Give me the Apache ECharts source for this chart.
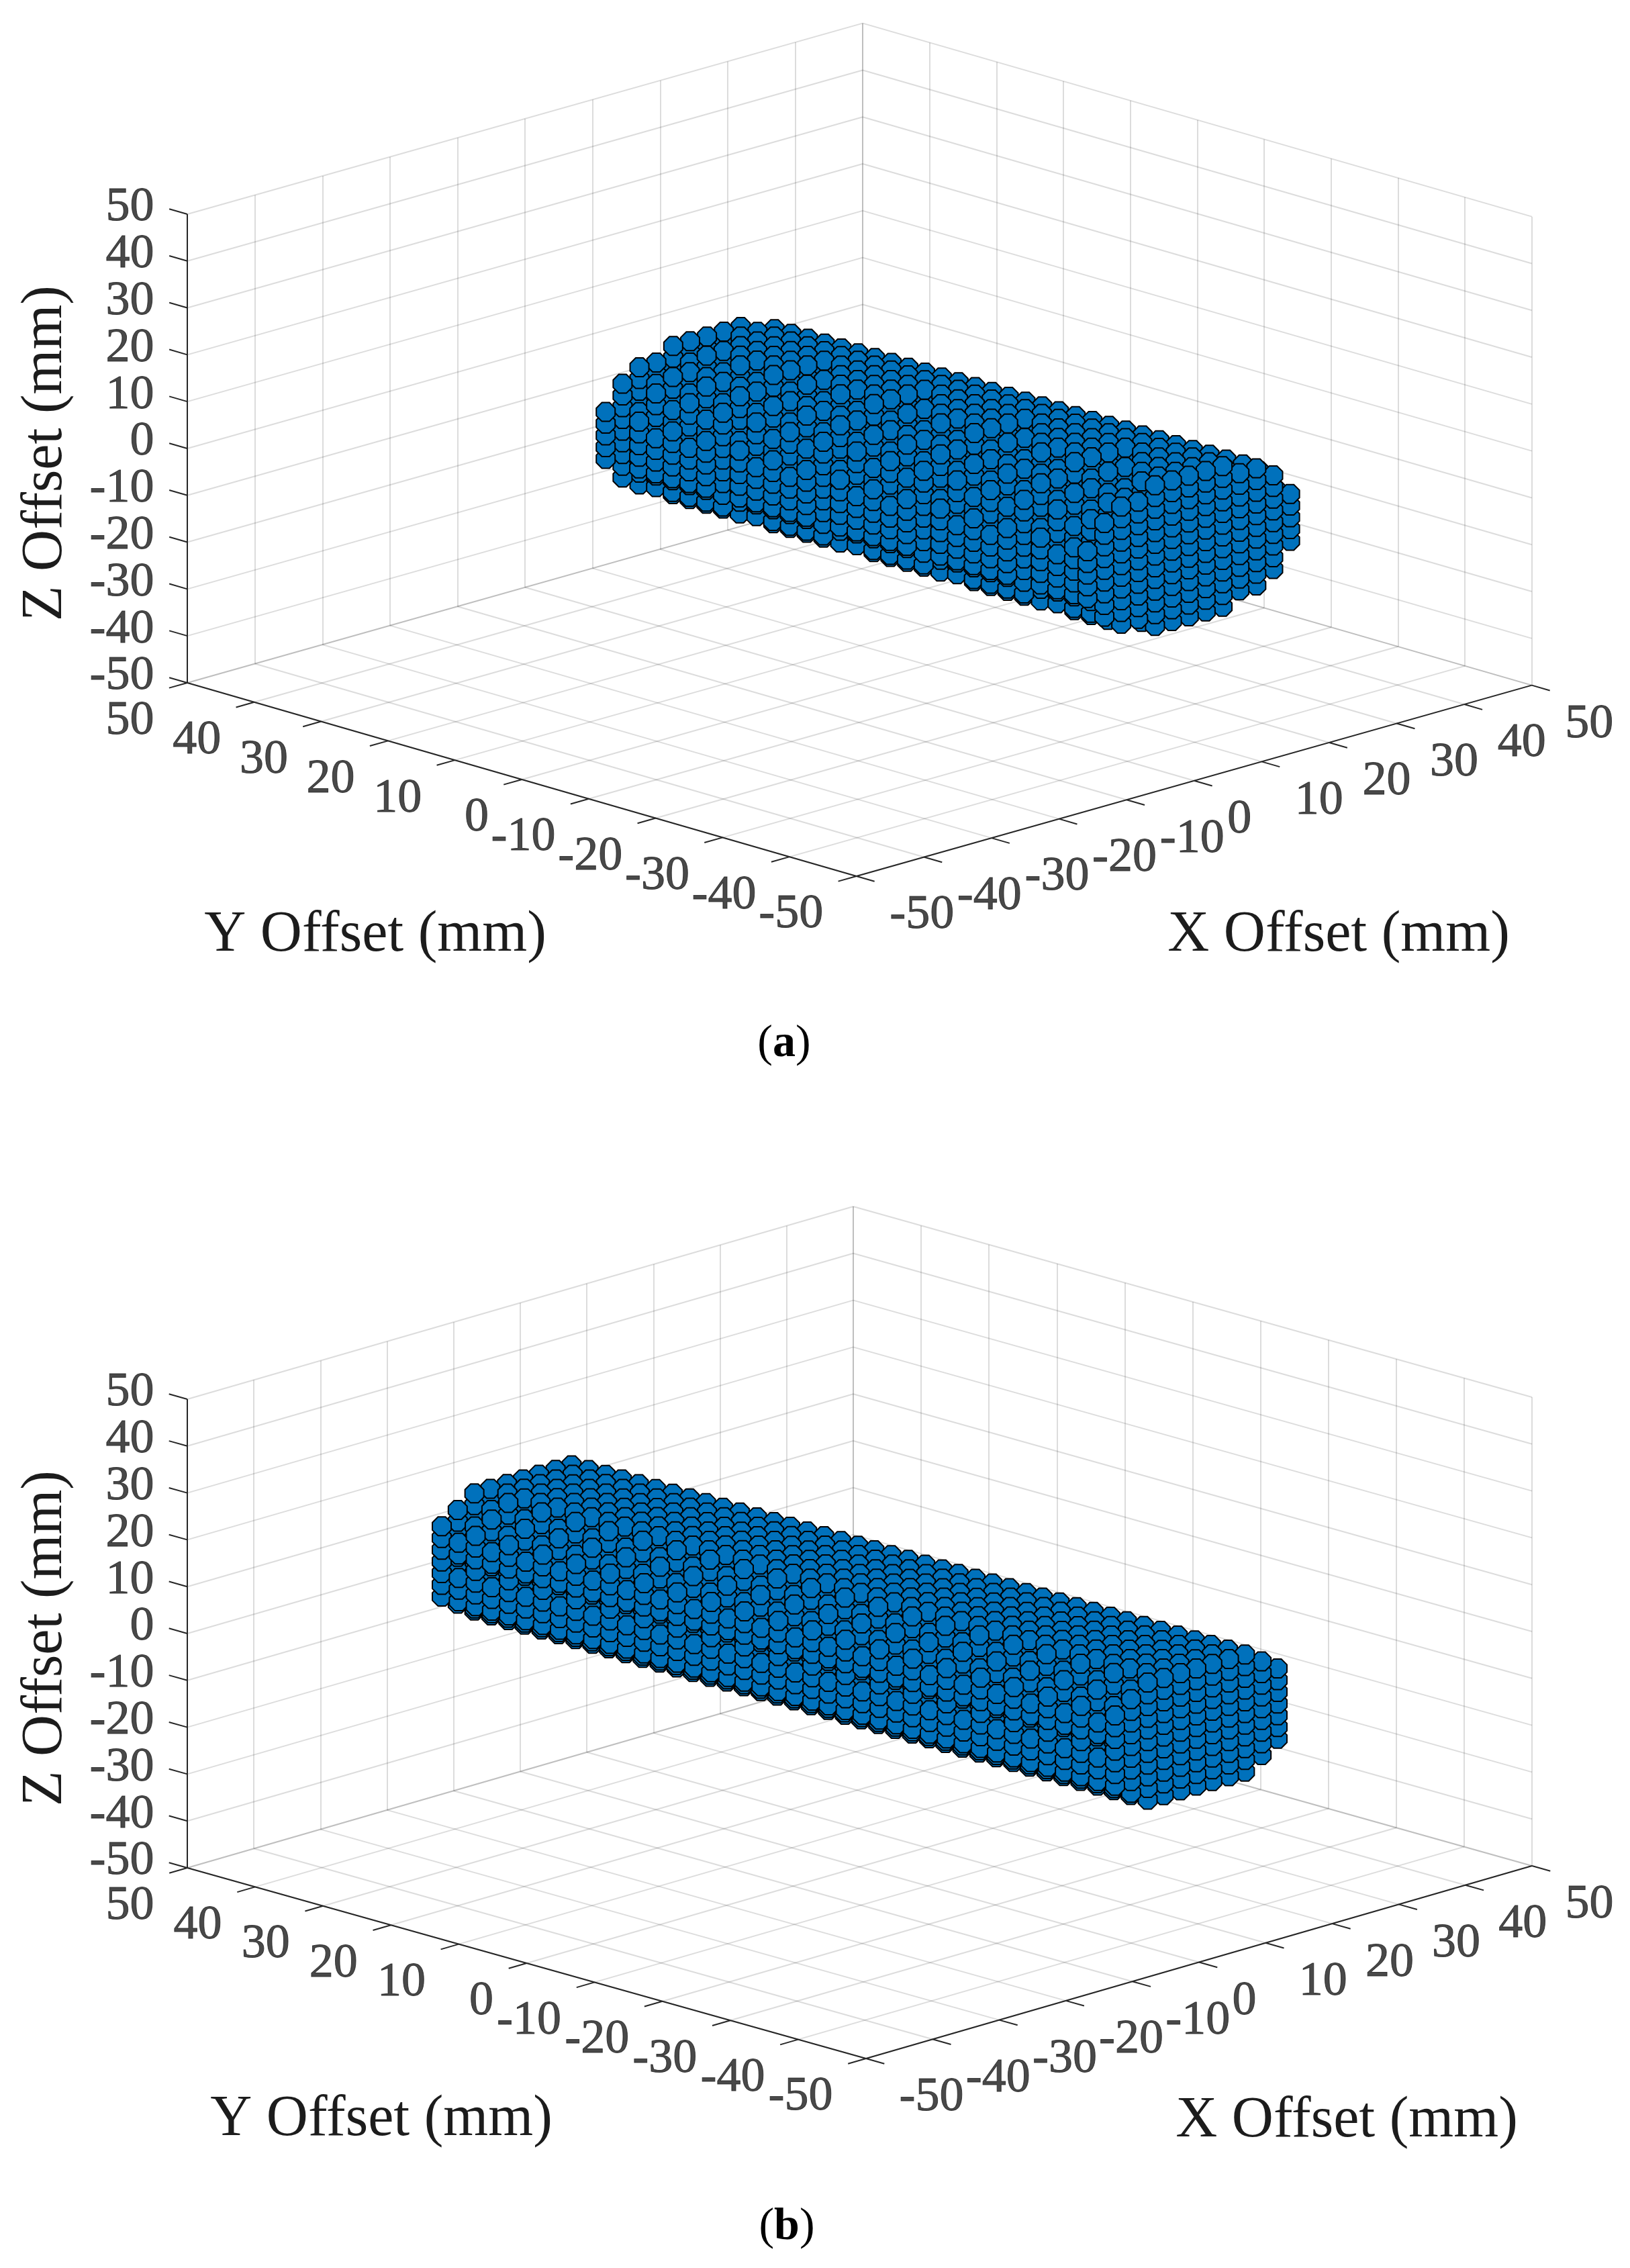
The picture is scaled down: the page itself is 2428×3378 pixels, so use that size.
<![CDATA[<!DOCTYPE html>
<html>
<head>
<meta charset="UTF-8">
<title>Offset point clouds</title>
<script src="https://cdn.jsdelivr.net/npm/echarts@6/dist/echarts.min.js"></script>
<style>
html, body { margin: 0; padding: 0; background: #fff; }
#chart { width: 2428px; height: 3378px; }
</style>
</head>
<body>
<div id="chart"></div>
<script>
// axis ticks shared by x, y and z (mm)
var tickValues = [-50, -40, -30, -20, -10, 0, 10, 20, 30, 40, 50];

// panel (a): lattice stations read off the picture, tube runs along y
var xStationsA = [-15.3, -12.8, -10.3, -7.8, -5.3, -2.8, -0.3, 2.2, 4.7, 7.2, 9.7, 12.2, 14.7];
var yStationsA = [22.5, 20, 17.5, 15, 12.5, 10, 7.5, 5, 2.5, 0, -2.5, -5, -7.5, -10, -12.5, -15, -17.5, -20,
    -22.5, -25, -27.5, -30, -32.5, -35, -37.5, -40, -42.5, -45, -47.5, -49.5];
var zTopA = [5, 10, 12.5, 12.5, 15, 15, 15, 15, 15, 12.5, 12.5, 10, 5];
var zBottomA = [-5, -10, -12.5, -12.5, -15, -15, -15, -15, -15, -12.5, -12.5, -10, -5];
// stations where the near skin of the tube steps back, and rows thinned along the tube
var ringStationsA = [1, 7, 13, 19, 25];
var skinRowsA = [[0, 5], [1, 10], [2, 12.5], [4, 15]];

// panel (b)
var xStationsB = [-12.2, -9.8, -7.3, -4.9, -2.4, 0, 2.4, 4.9, 7.3, 9.8, 12.2];
var yStationsB = [49.6, 47.1, 44.6, 42.2, 39.7, 37.2, 34.7, 32.2, 29.8, 27.3, 24.8, 22.3, 19.8, 17.4, 14.9, 12.4, 9.9, 7.4, 5, 2.5, 0,
    -2.5, -5, -7.4, -9.9, -12.4, -14.9, -17.4, -19.8, -22.3, -24.8, -27.3, -29.8, -32.2, -34.7, -37.2, -39.7, -42.2, -44.6, -47.1, -49.6];
var zTopB = [7.5, 10, 12.5, 12.5, 12.5, 12.5, 12.5, 12.5, 12.5, 10, 7.5];
var zBottomB = [-7.5, -10, -12.5, -12.5, -12.5, -12.5, -12.5, -12.5, -12.5, -10, -7.5];
var ringStationsB = [];
var skinRowsB = [[0, 7.5], [0, 0], [1, 10], [2, 12.5]];

var zStep = 2.5;
var serif = '"Liberation Serif", serif';
var inkColor = '#1c1c1c';
var gridColor = 'rgba(38,38,38,0.16)';
var markerColor = '#0071BC';
var octagon = 'path://M30 0L70 0L100 30L100 70L70 100L30 100L0 70L0 30Z';

// view plane of each panel: how a mm of x, y, z moves along the hidden axes
var viewA = { ux: 10.06, uy: -9.967, vx: 2.843, vy: 2.88, vz: 6.98, cx: 1280.4, cy: 669.8 };
var viewB = { ux: 9.92, uy: -10.11, vx: 2.87, vy: 2.84, vz: 6.98, cx: 1280.5, cy: 2431.5 };

function project(view, x, y, z) {
    return [view.ux * x + view.uy * y, view.vx * x + view.vy * y + view.vz * z];
}

function segment(view, a, b) {
    return { coords: [project(view, a[0], a[1], a[2]), project(view, b[0], b[1], b[2])] };
}

function gridSegments(view) {
    var out = [];
    tickValues.forEach(function (t) {
        // floor
        out.push(segment(view, [t, -50, -50], [t, 50, -50]));
        out.push(segment(view, [-50, t, -50], [50, t, -50]));
        // back left wall
        out.push(segment(view, [t, 50, -50], [t, 50, 50]));
        out.push(segment(view, [-50, 50, t], [50, 50, t]));
        // back right wall
        out.push(segment(view, [50, t, -50], [50, t, 50]));
        out.push(segment(view, [50, -50, t], [50, 50, t]));
    });
    return out;
}

function axisSegments(view) {
    var out = [
        segment(view, [-50, -50, -50], [50, -50, -50]),
        segment(view, [-50, -50, -50], [-50, 50, -50]),
        segment(view, [-50, 50, -50], [-50, 50, 50])
    ];
    var len = 2.7;
    tickValues.forEach(function (t) {
        out.push(segment(view, [t, -50, -50], [t, -50 - len, -50]));
        out.push(segment(view, [-50, t, -50], [-50 - len, t, -50]));
        out.push(segment(view, [-50, 50, t], [-50, 50 + len, t]));
    });
    return out;
}

// site missing from the outer skin, the layer under it shows through
function isSkipped(shape, i, j, z) {
    var lastStation = shape.ys.length - 1;
    if (j === 0 || j === lastStation) return false;
    if (j % 2 === 1 && shape.rows.some(function (r) { return r[0] === i && r[1] === z; })) return true;
    if (shape.rings.indexOf(j) >= 0 && i <= 6) {
        return i === 0 || z > shape.tops[i - 1] || z < shape.bottoms[i - 1] || z === shape.tops[i];
    }
    return false;
}

// back to front so nearer markers cover farther ones
function cloudPoints(view, shape) {
    var pts = [];
    shape.ys.forEach(function (y, j) {
        shape.xs.forEach(function (x, i) {
            for (var z = shape.bottoms[i]; z <= shape.tops[i]; z += zStep) {
                if (isSkipped(shape, i, j, z)) continue;
                pts.push({ d: 9.62 * (x + y) - 2.1 * z, p: project(view, x, y, z) });
            }
        });
    });
    pts.sort(function (a, b) { return b.d - a.d; });
    return pts.map(function (o) { return o.p; });
}

function tickLabelSeries(view, gridIndex, pointFn, offset, align) {
    return {
        type: 'scatter',
        xAxisIndex: gridIndex,
        yAxisIndex: gridIndex,
        symbolSize: 1,
        silent: true,
        itemStyle: { color: 'transparent' },
        label: {
            show: true,
            position: offset,
            align: align,
            verticalAlign: 'middle',
            fontFamily: serif,
            fontSize: 72,
            color: inkColor,
            textBorderColor: inkColor,
            textBorderWidth: 1,
            formatter: function (p) { return String(p.value[2]); }
        },
        data: tickValues.map(function (t) {
            var q = pointFn(t);
            return project(view, q[0], q[1], q[2]).concat(t);
        })
    };
}

function panelSeries(view, gridIndex, shape) {
    return [
        {
            type: 'lines', coordinateSystem: 'cartesian2d', xAxisIndex: gridIndex, yAxisIndex: gridIndex,
            silent: true, clip: false, lineStyle: { color: gridColor, width: 2, opacity: 1 },
            data: gridSegments(view)
        },
        {
            type: 'lines', coordinateSystem: 'cartesian2d', xAxisIndex: gridIndex, yAxisIndex: gridIndex,
            silent: true, clip: false, lineStyle: { color: '#262626', width: 2, opacity: 1 },
            data: axisSegments(view)
        },
        {
            type: 'scatter', xAxisIndex: gridIndex, yAxisIndex: gridIndex,
            symbol: octagon, symbolSize: 28, silent: true, progressive: 0, large: false,
            itemStyle: { color: markerColor, borderColor: '#000', borderWidth: 2, opacity: 1 },
            data: cloudPoints(view, shape)
        },
        tickLabelSeries(view, gridIndex, function (t) { return [t, -50, -50]; }, [50, 59], 'left'),
        tickLabelSeries(view, gridIndex, function (t) { return [-50, t, -50]; }, [-49, 58], 'right'),
        tickLabelSeries(view, gridIndex, function (t) { return [-50, 50, t]; }, [-49, -9], 'right')
    ];
}

function planeGrid(view) {
    return { left: view.cx - 1010, top: view.cy - 660, width: 2020, height: 1320 };
}

function planeX(i) { return { type: 'value', gridIndex: i, min: -1010, max: 1010, show: false }; }
function planeY(i) { return { type: 'value', gridIndex: i, min: -660, max: 660, show: false }; }

function axisTitle(text, x, y, rotation) {
    return {
        type: 'text', x: x, y: y, rotation: rotation || 0, silent: true,
        style: { text: text, font: '86px ' + serif, fill: inkColor, textAlign: 'center', textVerticalAlign: 'middle' }
    };
}

function caption(letter, x, y) {
    return {
        type: 'text', x: x, y: y, silent: true,
        style: {
            text: '{p|(}{b|' + letter + '}{p|)}',
            rich: {
                p: { fontFamily: serif, fontSize: 68, fill: '#000' },
                b: { fontFamily: serif, fontWeight: 'bold', fontSize: 68, fill: '#000' }
            },
            textAlign: 'center', textVerticalAlign: 'middle', fill: '#000'
        }
    };
}

var shapeA = { xs: xStationsA, ys: yStationsA, tops: zTopA, bottoms: zBottomA, rings: ringStationsA, rows: skinRowsA };
var shapeB = { xs: xStationsB, ys: yStationsB, tops: zTopB, bottoms: zBottomB, rings: ringStationsB, rows: skinRowsB };

var chart = echarts.init(document.getElementById('chart'));
chart.setOption({
    animation: false,
    backgroundColor: '#fff',
    grid: [planeGrid(viewA), planeGrid(viewB)],
    xAxis: [planeX(0), planeX(1)],
    yAxis: [planeY(0), planeY(1)],
    series: panelSeries(viewA, 0, shapeA).concat(panelSeries(viewB, 1, shapeB)),
    graphic: [
        axisTitle('Z Offset (mm)', 68, 675, Math.PI / 2),
        axisTitle('Y Offset (mm)', 559, 1393),
        axisTitle('X Offset (mm)', 1994, 1393),
        caption('a', 1168, 1555),
        axisTitle('Z Offset (mm)', 68, 2440, Math.PI / 2),
        axisTitle('Y Offset (mm)', 568, 3157),
        axisTitle('X Offset (mm)', 2006, 3159),
        caption('b', 1172, 3317)
    ]
});
</script>
</body>
</html>
]]>
